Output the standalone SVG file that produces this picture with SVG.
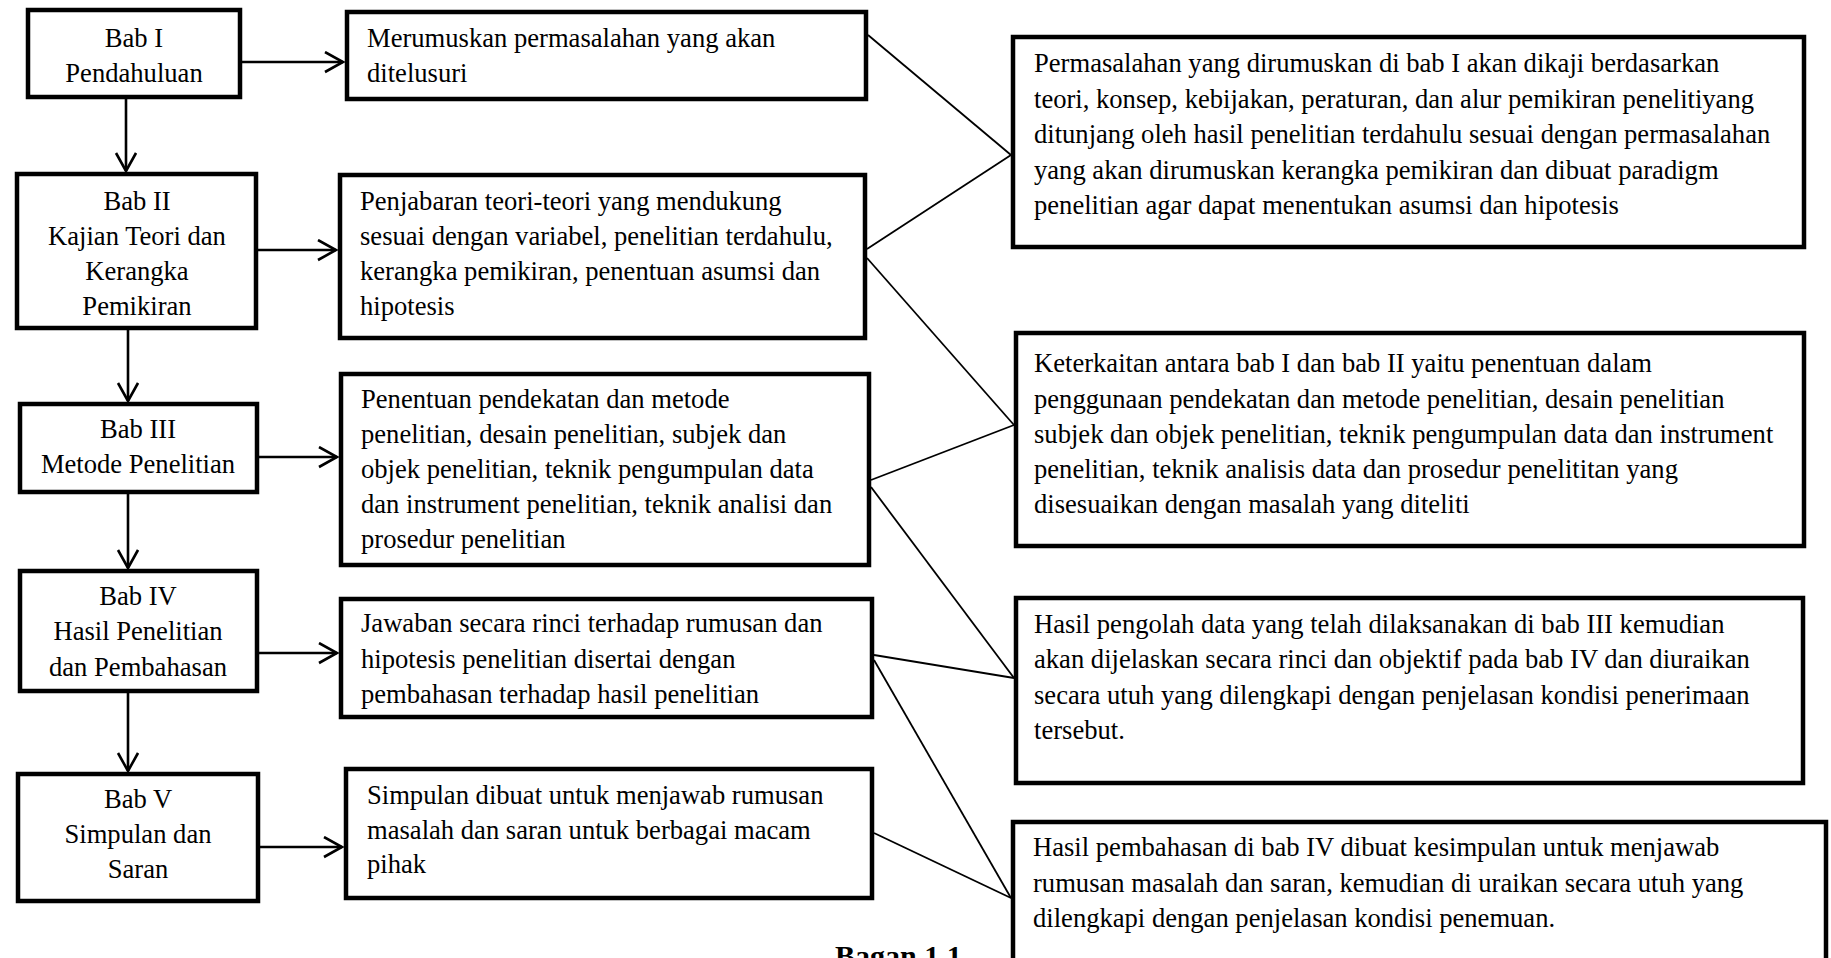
<svg xmlns="http://www.w3.org/2000/svg" width="1831" height="958" viewBox="0 0 1831 958">
<style>
.box{fill:#fff;stroke:#000;stroke-width:4.5}
.t{font-family:"Liberation Serif","Times New Roman",serif;font-size:26.6px;fill:#000}
.c{text-anchor:middle}
.arr{stroke:#000;stroke-width:2.6;fill:none;marker-end:url(#ah)}
.ln{stroke:#000;stroke-width:1.8;fill:none}
.cap{font-family:"Liberation Serif","Times New Roman",serif;font-size:30px;font-weight:bold;fill:#000}
</style>
<defs>
<marker id="ah" markerUnits="userSpaceOnUse" markerWidth="24" markerHeight="26" refX="19" refY="11" orient="auto">
<path d="M1,1 L19,11 L1,21" fill="none" stroke="#000" stroke-width="2.6"/>
</marker>
</defs>
<rect width="1831" height="958" fill="#fff"/>

<g id="connectors">
<line class="arr" x1="242" y1="62" x2="343" y2="62"/>
<line class="arr" x1="258" y1="250" x2="336" y2="250"/>
<line class="arr" x1="259" y1="457" x2="337" y2="457"/>
<line class="arr" x1="259" y1="653" x2="337" y2="653"/>
<line class="arr" x1="260" y1="847" x2="342" y2="847"/>
<line class="arr" x1="126" y1="99" x2="126" y2="171"/>
<line class="arr" x1="128" y1="330" x2="128" y2="401"/>
<line class="arr" x1="128" y1="494" x2="128" y2="568"/>
<line class="arr" x1="128" y1="693" x2="128" y2="771"/>
<line class="ln" x1="868" y1="35" x2="1011" y2="155"/>
<line class="ln" x1="867" y1="249" x2="1011" y2="155"/>
<line class="ln" x1="867" y1="258" x2="1014" y2="425"/>
<line class="ln" x1="871" y1="480" x2="1014" y2="425"/>
<line class="ln" x1="871" y1="487" x2="1014" y2="678"/>
<line class="ln" x1="874" y1="655" x2="1014" y2="678"/>
<line class="ln" x1="874" y1="660" x2="1011" y2="898"/>
<line class="ln" x1="874" y1="833" x2="1011" y2="898"/>
</g>

<g id="bab1">
<rect class="box" x="28" y="10" width="212" height="87"/>
<text class="t c" x="134" y="47">Bab I</text>
<text class="t c" x="134" y="82">Pendahuluan</text>
</g>
<g id="bab2">
<rect class="box" x="17" y="174" width="239" height="154"/>
<text class="t c" x="137" y="210">Bab II</text>
<text class="t c" x="137" y="245">Kajian Teori dan</text>
<text class="t c" x="137" y="280">Kerangka</text>
<text class="t c" x="137" y="315">Pemikiran</text>
</g>
<g id="bab3">
<rect class="box" x="20" y="404" width="237" height="88"/>
<text class="t c" x="138" y="438">Bab III</text>
<text class="t c" x="138" y="473">Metode Penelitian</text>
</g>
<g id="bab4">
<rect class="box" x="20" y="571" width="237" height="120"/>
<text class="t c" x="138" y="605">Bab IV</text>
<text class="t c" x="138" y="640">Hasil Penelitian</text>
<text class="t c" x="138" y="676">dan Pembahasan</text>
</g>
<g id="bab5">
<rect class="box" x="18" y="774" width="240" height="127"/>
<text class="t c" x="138" y="808">Bab V</text>
<text class="t c" x="138" y="843">Simpulan dan</text>
<text class="t c" x="138" y="878">Saran</text>
</g>

<g id="m1">
<rect class="box" x="347" y="12" width="519" height="87"/>
<text class="t" x="367" y="47">Merumuskan permasalahan yang akan</text>
<text class="t" x="367" y="82">ditelusuri</text>
</g>
<g id="m2">
<rect class="box" x="340" y="175" width="525" height="163"/>
<text class="t" x="360" y="210">Penjabaran teori-teori yang mendukung</text>
<text class="t" x="360" y="245">sesuai dengan variabel, penelitian terdahulu,</text>
<text class="t" x="360" y="280">kerangka pemikiran, penentuan asumsi dan</text>
<text class="t" x="360" y="315">hipotesis</text>
</g>
<g id="m3">
<rect class="box" x="341" y="374" width="528" height="191"/>
<text class="t" x="361" y="408">Penentuan pendekatan dan metode</text>
<text class="t" x="361" y="443">penelitian, desain penelitian, subjek dan</text>
<text class="t" x="361" y="478">objek penelitian, teknik pengumpulan data</text>
<text class="t" x="361" y="513">dan instrument penelitian, teknik analisi dan</text>
<text class="t" x="361" y="548">prosedur penelitian</text>
</g>
<g id="m4">
<rect class="box" x="341" y="599" width="531" height="118"/>
<text class="t" x="361" y="632">Jawaban secara rinci terhadap rumusan dan</text>
<text class="t" x="361" y="668">hipotesis penelitian disertai dengan</text>
<text class="t" x="361" y="703">pembahasan terhadap hasil penelitian</text>
</g>
<g id="m5">
<rect class="box" x="346" y="769" width="526" height="129"/>
<text class="t" x="367" y="804">Simpulan dibuat untuk menjawab rumusan</text>
<text class="t" x="367" y="839">masalah dan saran untuk berbagai macam</text>
<text class="t" x="367" y="873">pihak</text>
</g>

<g id="r1">
<rect class="box" x="1013" y="37" width="791" height="210"/>
<text class="t" x="1034" y="72">Permasalahan yang dirumuskan di bab I akan dikaji berdasarkan</text>
<text class="t" x="1034" y="108">teori, konsep, kebijakan, peraturan, dan alur pemikiran penelitiyang</text>
<text class="t" x="1034" y="143">ditunjang oleh hasil penelitian terdahulu sesuai dengan permasalahan</text>
<text class="t" x="1034" y="179">yang akan dirumuskan kerangka pemikiran dan dibuat paradigm</text>
<text class="t" x="1034" y="214">penelitian agar dapat menentukan asumsi dan hipotesis</text>
</g>
<g id="r2">
<rect class="box" x="1016" y="333" width="788" height="213"/>
<text class="t" x="1034" y="372">Keterkaitan antara bab I dan bab II yaitu penentuan dalam</text>
<text class="t" x="1034" y="408">penggunaan pendekatan dan metode penelitian, desain penelitian</text>
<text class="t" x="1034" y="443">subjek dan objek penelitian, teknik pengumpulan data dan instrument</text>
<text class="t" x="1034" y="478">penelitian, teknik analisis data dan prosedur penelititan yang</text>
<text class="t" x="1034" y="513">disesuaikan dengan masalah yang diteliti</text>
</g>
<g id="r3">
<rect class="box" x="1016" y="598" width="787" height="185"/>
<text class="t" x="1034" y="633">Hasil pengolah data yang telah dilaksanakan di bab III kemudian</text>
<text class="t" x="1034" y="668">akan dijelaskan secara rinci dan objektif pada bab IV dan diuraikan</text>
<text class="t" x="1034" y="704">secara utuh yang dilengkapi dengan penjelasan kondisi penerimaan</text>
<text class="t" x="1034" y="739">tersebut.</text>
</g>
<g id="r4">
<rect class="box" x="1013" y="822" width="813" height="150"/>
<text class="t" x="1033" y="856">Hasil pembahasan di bab IV dibuat kesimpulan untuk menjawab</text>
<text class="t" x="1033" y="892">rumusan masalah dan saran, kemudian di uraikan secara utuh yang</text>
<text class="t" x="1033" y="927">dilengkapi dengan penjelasan kondisi penemuan.</text>
</g>

<text class="cap" x="835" y="966">Bagan 1.1</text>
</svg>
